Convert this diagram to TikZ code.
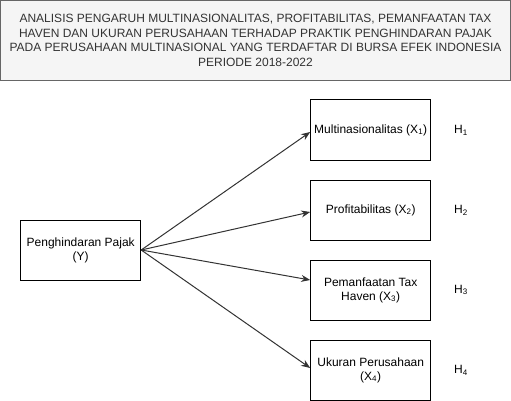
\documentclass[tikz,border=0pt]{standalone}
\usepackage{fontspec}
\setmainfont{Liberation Sans}
\usetikzlibrary{arrows.meta}
\definecolor{titlefill}{HTML}{F5F5F5}
\definecolor{titledraw}{HTML}{666666}
\definecolor{titletext}{HTML}{333333}
\definecolor{arrowgray}{HTML}{333333}
\begin{document}
\begin{tikzpicture}[x=1pt,y=-1pt,
  varbox/.style={draw=black,line width=1pt,minimum width=120pt,minimum height=60pt,inner sep=2pt,align=center,font=\fontsize{12}{14}\selectfont,text=black},
  hlabel/.style={font=\fontsize{12}{14}\selectfont,text=black,inner sep=0pt},
  link/.style={draw=arrowgray,line width=1pt,-{Stealth[length=9pt,width=7pt]}}]
\useasboundingbox (0,0) rectangle (511,401);
\node[draw=titledraw,fill=titlefill,line width=1pt,minimum width=509.5pt,minimum height=79.5pt,inner sep=0pt,align=center,text=titletext,font=\fontsize{12}{14.5}\selectfont] (title) at (255.5,40.5)
 {ANALISIS PENGARUH MULTINASIONALITAS, PROFITABILITAS, PEMANFAATAN TAX\\HAVEN DAN UKURAN PERUSAHAAN TERHADAP PRAKTIK PENGHINDARAN PAJAK\\PADA PERUSAHAAN MULTINASIONAL YANG TERDAFTAR DI BURSA EFEK INDONESIA\\PERIODE 2018-2022};
\node[varbox] (y) at (80.7,250) {Penghindaran Pajak\\(Y)};
\node[varbox] (x1) at (370.7,130) {Multinasionalitas (X\textsubscript{1})};
\node[varbox] (x2) at (370.7,210) {Profitabilitas (X\textsubscript{2})};
\node[varbox] (x3) at (370.7,290) {Pemanfaatan Tax\\Haven (X\textsubscript{3})};
\node[varbox] (x4) at (370.7,370) {Ukuran Perusahaan\\(X\textsubscript{4})};
\node[hlabel] (h1) at (461,130) {H\textsubscript{1}};
\node[hlabel] (h2) at (461,210) {H\textsubscript{2}};
\node[hlabel] (h3) at (461,290) {H\textsubscript{3}};
\node[hlabel] (h4) at (461,370) {H\textsubscript{4}};
\draw[link] (y.east) -- ([yshift=-2pt]x1.west);
\draw[link] (y.east) -- ([yshift=-2pt]x2.west);
\draw[link] (y.east) -- ([yshift=10pt]x3.west);
\draw[link] (y.east) -- ([yshift=2pt]x4.west);
\end{tikzpicture}
\end{document}
